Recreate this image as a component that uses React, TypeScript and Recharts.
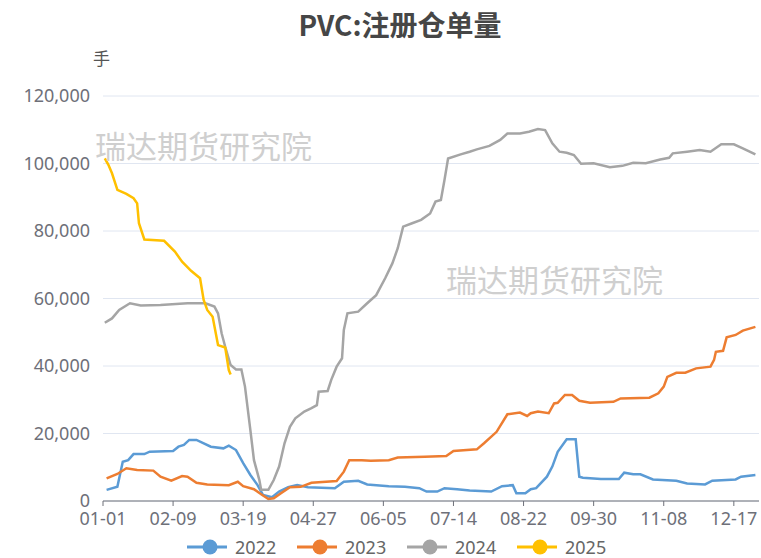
import { LineChart, Line, XAxis, YAxis, CartesianGrid } from 'recharts';

// ── Axis ticks ────────────────────────────────────────────────────────────────

const X_TICK_DAYS = [0, 39, 78, 117, 156, 195, 234, 273, 312, 351];
const X_TICK_LABELS = ['01-01', '02-09', '03-19', '04-27', '06-05', '07-14', '08-22', '09-30', '11-08', '12-17'];
const Y_TICKS = [0, 20000, 40000, 60000, 80000, 100000, 120000];

// ── Series values: [day of year, 手] ─────────────────────────────────────────

const Y2022: [number, number][] = [
  [2, 3300], [8, 4200], [11, 11600], [14, 12100], [17, 13900], [23, 13900], [26, 14600], [39, 14800],
  [42, 16100], [45, 16600], [48, 18100], [52, 18100], [60, 16100], [67, 15600], [70, 16400], [74, 15100],
  [78, 11200], [82, 7700], [86, 4700], [89, 1800], [94, 1100], [98, 2800], [103, 4100], [108, 4700],
  [114, 4100], [129, 3800], [134, 5700], [142, 6000], [147, 4900], [159, 4400], [168, 4200], [176, 3800],
  [180, 2800], [186, 2800], [190, 3800], [197, 3500], [204, 3100], [216, 2800], [222, 4400], [228, 4700],
  [230, 2300], [235, 2300], [238, 3500], [241, 3800], [247, 7200], [250, 10200], [253, 14600], [258, 18300],
  [263, 18300], [265, 7200], [267, 6900], [277, 6500], [287, 6500], [290, 8400], [295, 7900], [299, 7900],
  [306, 6400], [319, 6000], [325, 5200], [335, 4900], [339, 6000], [352, 6400], [355, 7200], [363, 7700],
];

const Y2023: [number, number][] = [
  [2, 6700], [8, 8000], [13, 9700], [19, 9200], [28, 9000], [32, 7200], [38, 6000], [44, 7400],
  [47, 7200], [52, 5400], [58, 4900], [70, 4700], [75, 5700], [78, 4400], [84, 3500], [88, 2000],
  [92, 600], [95, 800], [99, 2300], [104, 4100], [110, 4200], [116, 5400], [130, 5900], [134, 8700],
  [137, 12100], [144, 12100], [149, 11900], [159, 12100], [164, 12900], [179, 13100], [191, 13300], [195, 14800],
  [208, 15300], [212, 17100], [219, 20500], [225, 25700], [232, 26200], [236, 25200], [238, 26000], [242, 26500],
  [248, 26000], [251, 28900], [253, 29100], [257, 31400], [261, 31400], [265, 29700], [271, 29100], [284, 29400],
  [288, 30400], [304, 30600], [309, 31900], [312, 33900], [314, 36800], [319, 38000], [324, 38000], [330, 39300],
  [338, 39800], [340, 41800], [341, 44200], [345, 44500], [347, 48500], [352, 49200], [356, 50500], [363, 51600],
];

const Y2024: [number, number][] = [
  [1, 52800], [5, 54100], [9, 56600], [15, 58600], [21, 57900], [32, 58100], [47, 58600], [57, 58600],
  [62, 57600], [64, 55600], [66, 49700], [68, 45700], [71, 40300], [74, 39000], [77, 39000], [79, 33900],
  [82, 21000], [84, 12100], [87, 6200], [88, 3300], [92, 3300], [95, 6200], [98, 10200], [101, 17100],
  [104, 22000], [107, 24500], [112, 26500], [116, 27500], [119, 28400], [120, 32400], [125, 32600], [127, 35900],
  [130, 39800], [133, 42300], [134, 50700], [136, 55600], [142, 56100], [147, 58600], [152, 61000], [157, 66000],
  [161, 70400], [164, 74900], [167, 81300], [172, 82300], [177, 83300], [182, 85200], [185, 88700], [188, 89200],
  [190, 95100], [192, 101500], [199, 102700], [204, 103500], [208, 104200], [215, 105200], [221, 107000], [225, 108900],
  [232, 108900], [237, 109400], [242, 110200], [246, 109900], [250, 106000], [254, 103500], [258, 103200], [262, 102500],
  [266, 99900], [273, 100100], [282, 98900], [289, 99300], [295, 100200], [302, 100100], [310, 101200], [315, 101700],
  [317, 103000], [325, 103500], [332, 104000], [338, 103500], [344, 105700], [351, 105700], [356, 104500], [363, 102700],
];

const Y2025: [number, number][] = [
  [1, 101500], [3, 99600], [5, 97100], [8, 92200], [13, 91000], [17, 89700], [19, 88200], [20, 82300],
  [23, 77500], [34, 77100], [40, 73900], [44, 70900], [49, 68200], [54, 66000], [56, 59600], [58, 56600],
  [61, 54600], [64, 46200], [68, 45500], [70, 38800], [71, 37500],
];

const SERIES = [
  { name: '2022', color: '#5B9BD5', points: Y2022 },
  { name: '2023', color: '#ED7D31', points: Y2023 },
  { name: '2024', color: '#A5A5A5', points: Y2024 },
  { name: '2025', color: '#FFC000', points: Y2025 },
];

const AXIS_GREY = '#6E7079';
const FONT = '"Noto Sans", "Noto Sans CJK SC", sans-serif';

function tickLabel(day: number): string {
  const i = X_TICK_DAYS.indexOf(day);
  return i >= 0 ? X_TICK_LABELS[i] : '';
}

const watermark: React.CSSProperties = {
  position: 'absolute',
  fontFamily: '"Noto Sans CJK SC", sans-serif',
  fontSize: 31,
  color: '#CFCFCF',
  whiteSpace: 'nowrap',
  pointerEvents: 'none',
  lineHeight: 1,
};

export default function App() {
  return (
    <div style={{
      position: 'relative', width: 761, height: 558, overflow: 'hidden',
      background: '#FFFFFF', fontFamily: FONT,
    }}>
      <style>{'html, body { margin: 0; padding: 0; overflow: hidden; }'}</style>

      {/* Title */}
      <div style={{
        position: 'absolute', top: 8, left: 0, width: 761, boxSizing: 'border-box', paddingLeft: 39,
        textAlign: 'center', fontFamily: '"Noto Sans CJK SC", sans-serif', fontSize: 28, fontWeight: 700,
        color: '#464646', lineHeight: 1.2,
      }}>
        PVC:注册仓单量
      </div>

      {/* Unit */}
      <div style={{
        position: 'absolute', top: 48, left: 93, fontFamily: '"Noto Sans CJK SC", sans-serif',
        fontSize: 17, color: '#555555', lineHeight: 1.2,
      }}>
        手
      </div>

      <LineChart width={761} height={558} margin={{ top: 96, right: 2, bottom: 27, left: 13 }}>
        <CartesianGrid vertical={false} stroke="#E0E6F1" />
        <XAxis
          type="number"
          dataKey="day"
          domain={[0, 365]}
          ticks={X_TICK_DAYS}
          tickFormatter={tickLabel}
          interval={0}
          height={30}
          axisLine={{ stroke: AXIS_GREY }}
          tickLine={{ stroke: AXIS_GREY }}
          tickSize={5}
          tickMargin={6}
          tick={{ fontSize: 18, fill: AXIS_GREY, fontFamily: FONT }}
        />
        <YAxis
          type="number"
          domain={[0, 120000]}
          ticks={Y_TICKS}
          width={90}
          axisLine={false}
          tickLine={false}
          tickMargin={7}
          tickFormatter={(v: number) => v.toLocaleString('en-US')}
          tick={{ fontSize: 18, fill: AXIS_GREY, fontFamily: FONT }}
        />
        {SERIES.map((s) => (
          <Line
            key={s.name}
            data={s.points.map(([day, value]) => ({ day, value }))}
            dataKey="value"
            name={s.name}
            stroke={s.color}
            strokeWidth={2.5}
            dot={false}
            activeDot={false}
            isAnimationActive={false}
          />
        ))}
      </LineChart>

      {/* Watermarks */}
      <div style={{ ...watermark, left: 95, top: 129 }}>瑞达期货研究院</div>
      <div style={{ ...watermark, left: 446, top: 263 }}>瑞达期货研究院</div>

      {/* Legend */}
      <div style={{ position: 'absolute', top: 536, left: 187, display: 'flex' }}>
        {SERIES.map((s) => (
          <div key={s.name} style={{ display: 'flex', alignItems: 'center', width: 110 }}>
            <svg width={40} height={22}>
              <line x1={0} y1={11} x2={40} y2={11} stroke={s.color} strokeWidth={3} />
              <circle cx={23} cy={11} r={7.5} fill={s.color} />
            </svg>
            <span style={{ marginLeft: 8, fontSize: 18, color: '#666666', lineHeight: 1 }}>{s.name}</span>
          </div>
        ))}
      </div>
    </div>
  );
}
